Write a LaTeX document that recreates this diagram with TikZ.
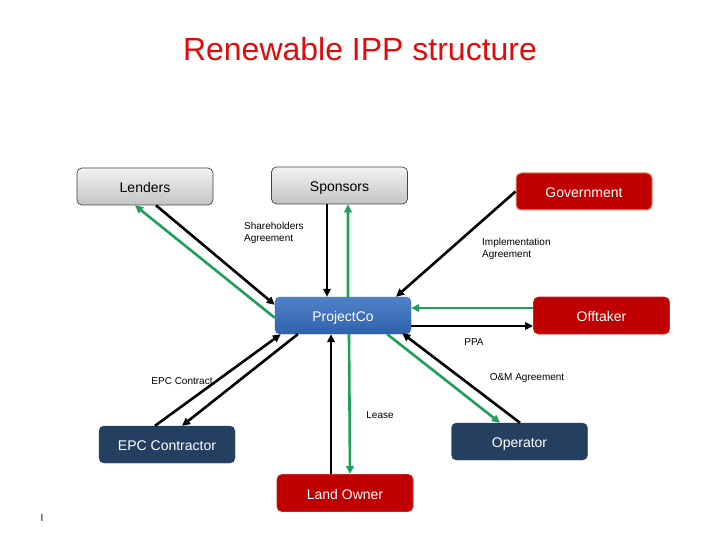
\documentclass[tikz,border=0pt]{standalone}
\usepackage{fontspec}
\setmainfont{Liberation Sans}
\usetikzlibrary{calc,arrows.meta}
\definecolor{ttlred}{RGB}{224,12,12}
\definecolor{boxred}{RGB}{192,0,0}
\definecolor{boxnavy}{RGB}{36,63,96}
\definecolor{bluetop}{RGB}{80,130,200}
\definecolor{bluebot}{RGB}{46,98,172}
\definecolor{graytop}{RGB}{242,242,242}
\definecolor{graybot}{RGB}{196,196,196}
\definecolor{lngreen}{RGB}{30,160,90}
\tikzset{
  boxbase/.style={rounded corners=5bp, minimum width=136bp, minimum height=37bp,
    inner sep=0pt, text height=14bp, text depth=2bp, font=\fontsize{14bp}{16bp}\selectfont},
  graybox/.style={boxbase, draw={rgb,255:red,70;green,70;blue,70}, line width=0.7bp,
    top color=graytop, bottom color=graybot, text=black},
  redbox/.style={boxbase, fill=boxred, draw=boxred!85!white, line width=0.8bp, text=white},
  govbox/.style={boxbase, fill=boxred, draw={rgb,255:red,225;green,150;blue,110}, line width=1bp, text=white},
  navybox/.style={boxbase, fill=boxnavy, draw=boxnavy, text=white},
  bluebox/.style={boxbase, top color=bluetop, bottom color=bluebot, draw=bluebot, text=white},
  blk/.style={line width=2.6bp, draw=black, -{Triangle[length=8bp,width=7.5bp]}},
  grn/.style={line width=2.6bp, draw=lngreen, -{Triangle[length=8bp,width=7.5bp]}},
  lbl/.style={font=\fontsize{10bp}{12bp}\selectfont, inner sep=0pt, align=left, text=black}
}
\begin{document}
\begin{tikzpicture}[x=1bp,y=-1bp]
\useasboundingbox (0,0) rectangle (720,540);
\fill[white] (0,0) rectangle (720,540);

% title
\node[font=\fontsize{32bp}{36bp}\selectfont, text=ttlred, inner sep=0pt] (title) at (360,49) {Renewable IPP structure};

% boxes
\node[graybox] (lenders) at (145,186.5) {Lenders};
\node[graybox] (sponsors) at (339.5,185.5) {Sponsors};
\node[govbox] (gov) at (584,191.5) {Government};
\node[bluebox] (pc) at (343,315.5) {ProjectCo};
\node[redbox] (off) at (601.5,315.5) {Offtaker};
\node[navybox] (epc) at (167,444.5) {EPC Contractor};
\node[navybox] (op) at (519.5,441.5) {Operator};
\node[redbox] (lo) at (345,493) {Land Owner};

% Lenders
\draw[blk] ($(lenders.south)+(11,0)$) -- ($(pc.north west)+(0,8)$);
\draw[grn] ($(pc.north west)+(0,21)$) -- ($(lenders.south)+(-10,0)$);
% Sponsors
\draw[blk] ($(sponsors.south)+(-12.5,0)$) -- ($(pc.north)+(-16,0)$);
\draw[grn] ($(pc.north)+(5,0)$) -- ($(sponsors.south)+(8.5,0)$);
% Government
\draw[blk] (gov.west) -- ($(pc.north)+(53,0)$);
% Offtaker
\draw[grn] ($(off.west)+(0,-7.5)$) -- ($(pc.east)+(0,-7.5)$);
\draw[blk] ($(pc.east)+(0,10.5)$) -- ($(off.west)+(0,10.5)$);
% EPC
\draw[blk] ($(epc.north)+(-12,0)$) -- ($(pc.south west)+(6,0)$);
\draw[blk] ($(pc.south west)+(23,0)$) -- ($(epc.north)+(15,0)$);
% Land owner
\draw[blk] ($(lo.north)+(-14,0)$) -- ($(pc.south)+(-12,0)$);
\draw[grn] ($(pc.south)+(6,0)$) -- ($(lo.north)+(5,0)$);
% Operator
\draw[grn] ($(pc.south east)+(-24,0)$) -- ($(op.north)+(-19.5,0)$);
\draw[blk] ($(op.north)+(0.5,0)$) -- ($(pc.south east)+(-9,-1)$);

% labels
\node[lbl, anchor=north west] (sha) at (244,222) {Shareholders\\Agreement};
\node[lbl, anchor=north west] (impl) at (482,238) {Implementation\\Agreement};
\node[lbl] (ppa) at (474,342) {PPA};
\node[lbl] (epcc) at (182,381) {EPC Contract};
\node[lbl] (om) at (527,378) {O\&M Agreement};
\node[lbl] (lease) at (380,415) {Lease};
\node[lbl] (mark) at (42,518) {l};
\end{tikzpicture}
\end{document}
